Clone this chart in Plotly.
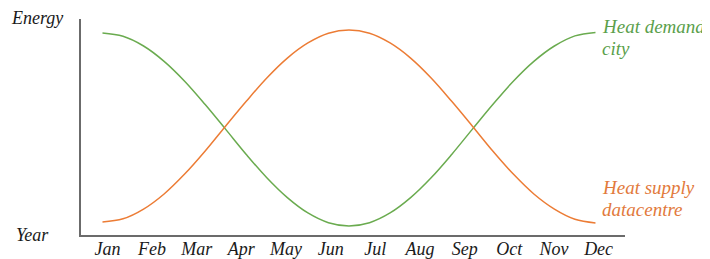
import plotly.graph_objects as go

months = ["Jan", "Feb", "Mar", "Apr", "May", "Jun", "Jul", "Aug", "Sep", "Oct", "Nov", "Dec"]
month_pos = [1, 2, 3, 4, 5, 6, 7, 8, 9, 10, 11, 12]

# position along the year (month units, Jan = 1)
t = [0.89, 1.35, 1.81, 2.27, 2.73, 3.19, 3.65, 4.11, 4.57, 5.03, 5.49, 5.95, 6.41,
     6.87, 7.33, 7.79, 8.25, 8.71, 9.17, 9.63, 10.09, 10.55, 11.01, 11.47, 11.93]

heat_demand_city = [93.5, 92.0, 87.5, 80.4, 71.2, 60.4, 48.9, 37.3, 26.5, 17.3, 10.2, 5.7, 4.2,
                    5.7, 10.2, 17.3, 26.5, 37.3, 48.9, 60.4, 71.2, 80.4, 87.5, 92.2, 93.8]
heat_supply_dc = [6.0, 7.5, 12.0, 19.0, 28.2, 38.9, 50.5, 61.9, 72.7, 81.9, 88.9, 93.4, 94.9,
                  93.4, 88.9, 81.9, 72.7, 61.9, 50.5, 38.9, 28.2, 19.0, 12.0, 7.3, 5.6]

GREEN_LINE = "#6aab4f"
GREEN_TEXT = "#5b9f4c"
ORANGE_LINE = "#ec7c35"
ORANGE_TEXT = "#e27a3c"
AXIS = "#6b6b6b"
TEXT = "#1a1a1a"
FONT = "Liberation Serif"

OFF = 8  # page body margin
W, H = 710 - OFF, 259 - OFF
L, R, T, B = 81 - OFF, 93 - OFF, 19 - OFF, 24
pw = W - L - R
ph = H - T - B

def px_x(px):
    return (px - OFF - L) / pw

def px_y(py):
    return 1 - (py - OFF - T) / ph

fig = go.Figure()
fig.add_trace(go.Scatter(x=t, y=heat_demand_city, mode="lines",
                         line=dict(color=GREEN_LINE, width=1.5, shape="spline"),
                         name="Heat demand city", hoverinfo="skip"))
fig.add_trace(go.Scatter(x=t, y=heat_supply_dc, mode="lines",
                         line=dict(color=ORANGE_LINE, width=1.5, shape="spline"),
                         name="Heat supply datacentre", hoverinfo="skip"))

def label(text, x, y, size, color):
    return dict(text=text, x=px_x(x), y=px_y(y), xanchor="left", yanchor="middle",
                xref="paper", yref="paper", showarrow=False, borderpad=0,
                font=dict(family=FONT, size=size, color=color, style="italic"))

annotations = [
    label("Energy", 10, 18, 18, TEXT),
    label("Year", 15, 235, 18, TEXT),
    label("Heat demand", 601, 27, 19, GREEN_TEXT),
    label("city", 601, 49, 19, GREEN_TEXT),
    label("Heat supply", 601, 187, 19, ORANGE_TEXT),
    label("datacentre", 601, 209, 19, ORANGE_TEXT),
]

fig.update_layout(
    template="none",
    width=W, height=H,
    margin=dict(l=L, r=R, t=T, b=B, pad=0),
    paper_bgcolor="white", plot_bgcolor="white",
    showlegend=False,
    annotations=annotations,
    xaxis=dict(range=[1 + (81 - 107) / 44, 1 + (710 - 93 - 107) / 44],
               tickvals=month_pos, ticktext=months, automargin=False, ticklabelstandoff=-4,
               showgrid=False, zeroline=False, showline=True, linecolor=AXIS, linewidth=2,
               ticks="", tickfont=dict(family=FONT, size=18, color=TEXT, style="italic")),
    yaxis=dict(range=[0, 100], showgrid=False, zeroline=False, showline=True, automargin=False,
               linecolor=AXIS, linewidth=2, showticklabels=False, ticks=""),
)

fig.write_html("out.html")
